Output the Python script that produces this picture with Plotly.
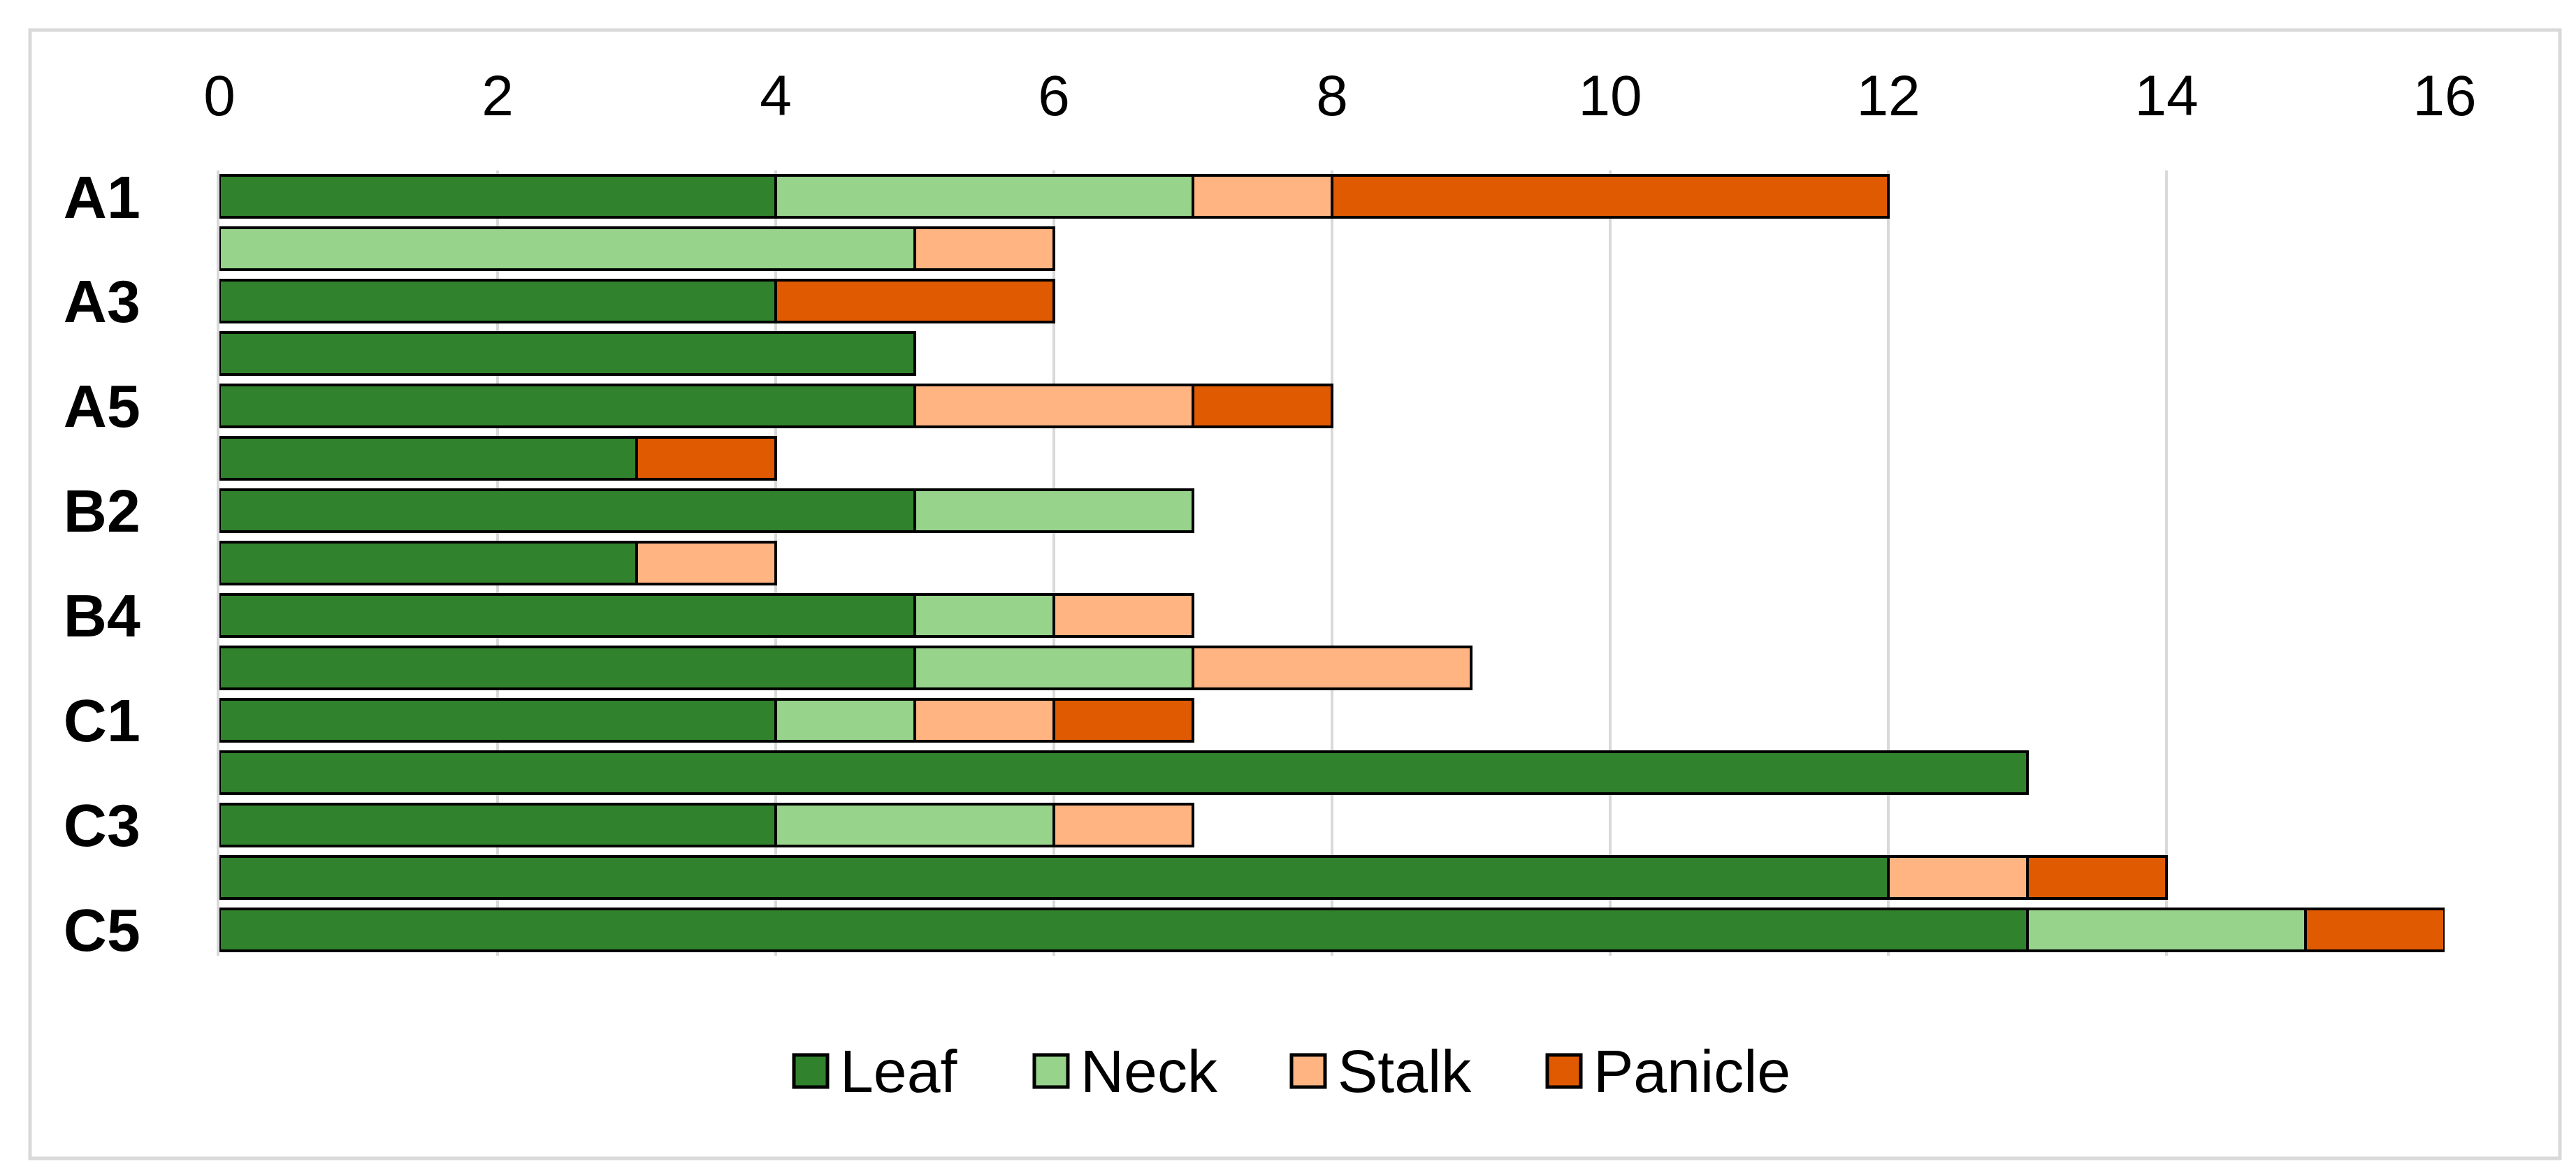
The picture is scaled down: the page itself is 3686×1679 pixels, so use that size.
import plotly.graph_objects as go

categories = ["A1", "A2", "A3", "A4", "A5", "B1", "B2", "B3", "B4", "B5",
              "C1", "C2", "C3", "C4", "C5"]
leaf =    [4, None, 4, 5, 5, 3, 5, 3, 5, 5, 4, 13, 4, 12, 13]
neck =    [3, 5, None, None, None, None, 2, None, 1, 2, 1, None, 2, None, 2]
stalk =   [1, 1, None, None, 2, None, None, 1, 1, 2, 1, None, 1, 1, None]
panicle = [4, None, 2, None, 1, 1, None, None, None, None, 1, None, None, 1, 1]
shown_labels = ["A1", "A3", "A5", "B2", "B4", "C1", "C3", "C5"]
x_ticks = [0, 2, 4, 6, 8, 10, 12, 14, 16]

series = [("Leaf", leaf, "#31822D"), ("Neck", neck, "#97D38B"),
          ("Stalk", stalk, "#FFB482"), ("Panicle", panicle, "#E05A02")]

W, H = 3686, 1679
ml, mr, mt, mb = 306, 196, 236, 319
pw, ph = W - ml - mr, H - mt - mb
FONT = "Liberation Sans, Arial, sans-serif"

def px_x(p):
    return (p - ml) / pw

def px_y(p):
    return (H - mb - p) / ph

fig = go.Figure()
for name, vals, col in series:
    fig.add_trace(go.Bar(
        y=categories, x=vals, name=name, orientation="h", showlegend=False,
        marker=dict(color=col, line=dict(color="black", width=4)),
    ))

# outer frame
fig.add_shape(type="rect", xref="paper", yref="paper",
              x0=px_x(35), x1=px_x(3655), y0=px_y(1650), y1=px_y(35),
              line=dict(color="#D9D9D9", width=5), fillcolor="rgba(0,0,0,0)",
              layer="below")

# manual legend (larger swatches like the original)
legend_x = [1128, 1472, 1840, 2206]  # swatch left edges in pixels
sw, sh = 48, 46
ly = 1525
for (name, _, col), x0 in zip(series, legend_x):
    fig.add_shape(type="rect", xref="paper", yref="paper",
                  x0=px_x(x0), x1=px_x(x0 + sw),
                  y0=px_y(ly + sh / 2), y1=px_y(ly - sh / 2),
                  line=dict(color="black", width=5), fillcolor=col)
    fig.add_annotation(xref="paper", yref="paper", x=px_x(x0 + sw + 16),
                       y=px_y(ly), xanchor="left", yanchor="middle",
                       text=name, showarrow=False,
                       font=dict(size=86, family=FONT, color="black"))

fig.update_layout(
    width=W, height=H,
    barmode="stack", bargap=0.2,
    plot_bgcolor="white", paper_bgcolor="white",
    margin=dict(l=ml, r=mr, t=mt, b=mb),
    font=dict(family=FONT, size=82, color="black"),
    xaxis=dict(side="top", range=[0, 16], tickvals=x_ticks,
               showgrid=True, gridcolor="#D9D9D9", gridwidth=4,
               zeroline=False, showline=False, ticks="",
               ticklabelstandoff=62, tickfont=dict(size=82)),
    yaxis=dict(categoryorder="array", categoryarray=categories,
               autorange="reversed", tickvals=shown_labels,
               showgrid=False, zeroline=False, showline=True,
               linecolor="#D9D9D9", linewidth=4, ticks="",
               ticklabelstandoff=92,
               tickfont=dict(size=86, family=FONT, weight="bold")),
    showlegend=False,
)

fig.write_html("out.html")
